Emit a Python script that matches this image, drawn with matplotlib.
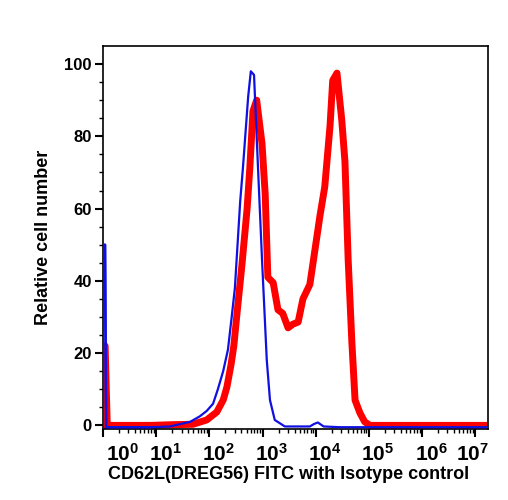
import numpy as np
import matplotlib
matplotlib.use("Agg")
import matplotlib.pyplot as plt
import matplotlib.transforms as mtransforms
from matplotlib.ticker import FixedLocator, NullFormatter, LogLocator

plt.rcParams['font.family'] = ['Liberation Sans', 'DejaVu Sans']
plt.rcParams['font.weight'] = 'bold'
plt.rcParams['mathtext.fontset'] = 'custom'
plt.rcParams['mathtext.rm'] = 'Liberation Sans:bold'
plt.rcParams['mathtext.bf'] = 'Liberation Sans:bold'
plt.rcParams['mathtext.it'] = 'Liberation Sans:bold'

# Isotype control (blue): log10 fluorescence, relative cell number
iso_log = [0.0, 0.005, 0.04, 0.06, 0.9, 1.26, 1.64, 1.82, 1.95, 2.07, 2.16, 2.26, 2.35,
           2.42, 2.48, 2.58, 2.63, 2.73, 2.78, 2.84, 2.91, 2.99, 3.08, 3.14, 3.23, 3.42,
           3.89, 3.97, 4.04, 4.15, 4.45, 7.24]
iso_count = [-0.5, 50, 50, -0.5, -0.5, -0.3, 1, 2.5, 4, 6, 10, 15, 21,
             30, 38, 62, 71, 91, 98, 97, 73, 46, 18, 7, 1.5, -0.3,
             -0.3, 0.4, 0.8, -0.3, -0.5, -0.5]

# CD62L (DREG56) FITC (red)
cd62l_log = [0.0, 0.01, 0.04, 0.08, 0.9, 1.32, 1.69, 1.95, 2.14, 2.26, 2.33, 2.41, 2.46,
             2.52, 2.61, 2.71, 2.76, 2.82, 2.89, 2.99, 3.05, 3.10, 3.20, 3.29, 3.38, 3.48,
             3.57, 3.67, 3.76, 3.89, 3.98, 4.08, 4.17, 4.27, 4.32, 4.40, 4.49, 4.55, 4.61,
             4.68, 4.74, 4.83, 4.92, 5.02, 7.24]
cd62l_count = [0, 22, 22, 0, 0, 0.2, 0.3, 1.5, 3.7, 7, 10.6, 17, 22,
               31, 44, 60, 71, 87, 90, 78, 64, 41, 39.5, 32, 31, 27,
               28, 28.6, 35, 39, 48, 58, 66, 83, 95.5, 97.5, 84.5, 73, 46,
               23, 7, 3.5, 1, 0, 0]

x_label = "CD62L(DREG56) FITC with Isotype control"
y_label = "Relative cell number"
x_tick_exps = [0, 1, 2, 3, 4, 5, 6, 7]
y_ticks = [0, 20, 40, 60, 80, 100]

fig = plt.figure(figsize=(5.08, 5.00), dpi=100)
ax = fig.add_axes([103/508, 71/500, 385/508, 383/500])

ax.plot(10**np.array(iso_log), iso_count, color='#1010e0', lw=1.6, zorder=3)
ax.plot(10**np.array(cd62l_log), cd62l_count, color='#ff0000', lw=5.0, zorder=2,
        solid_joinstyle='round')
ax.plot(10**np.array(iso_log[:5]), iso_count[:5], color='#1010e0', lw=1.6, zorder=4)

ax.set_xscale('log')
ax.set_xlim(1, 10**7.24)
ax.set_ylim(-1, 105)

ax.xaxis.set_major_locator(FixedLocator([10**e for e in x_tick_exps]))
ax.set_xticklabels([r'$\mathbf{10^{%d}}$' % e for e in x_tick_exps])
ax.xaxis.set_minor_locator(LogLocator(base=10, subs=np.arange(2, 10), numticks=20))
ax.xaxis.set_minor_formatter(NullFormatter())

ax.set_yticks(y_ticks)
ax.set_yticks(np.arange(0, 105, 5), minor=True)

ax.tick_params(axis='x', which='major', direction='out', length=6, width=1.5,
               labelsize=15, pad=4)
ax.tick_params(axis='x', which='minor', direction='out', length=3, width=1)
ax.tick_params(axis='y', which='major', direction='out', length=6, width=1.5,
               labelsize=12, pad=2)
ax.tick_params(axis='y', which='minor', direction='out', length=3, width=1)

for lab in ax.get_yticklabels():
    lab.set_fontweight('bold')

offsets = {0: 20, 7: -3}
for e, lab in zip(x_tick_exps, ax.get_xticklabels()):
    dx = offsets.get(e, 9)
    lab.set_transform(lab.get_transform() +
                      mtransforms.ScaledTranslation(dx/100, 0, fig.dpi_scale_trans))

for s in ax.spines.values():
    s.set_linewidth(1.2)

ax.set_xlabel(x_label, fontsize=13, fontweight='bold', labelpad=1)
ax.xaxis.label.set_x((289 - 103) / 385)
ax.set_ylabel(y_label, fontsize=13, fontweight='bold', labelpad=9)

fig.savefig('out.png', dpi=100)
